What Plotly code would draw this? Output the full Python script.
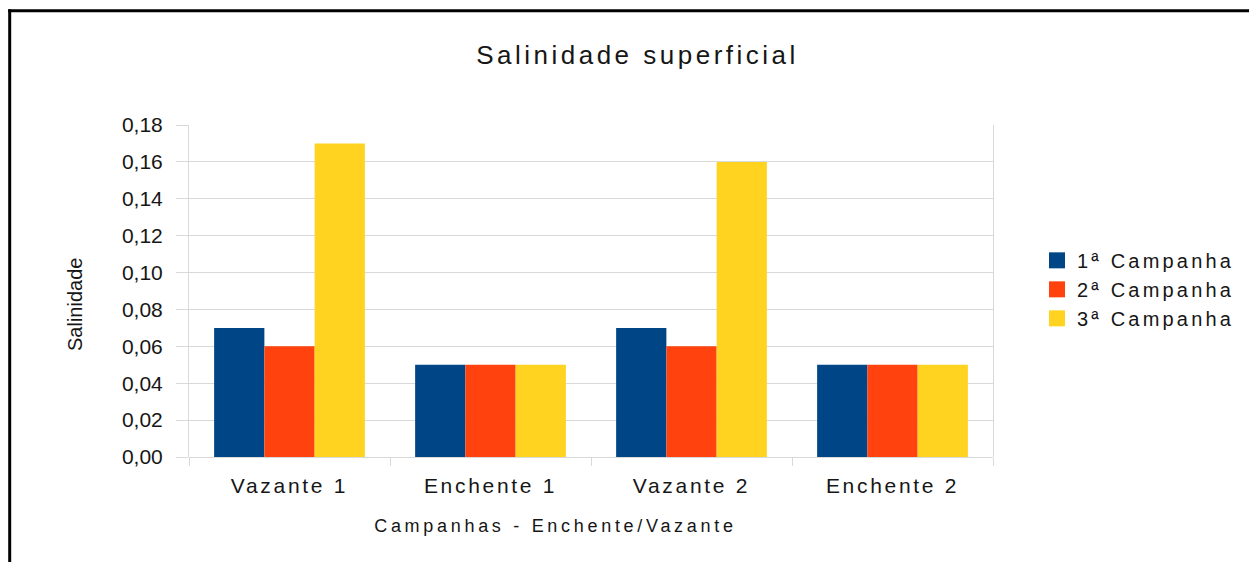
import plotly.graph_objects as go

categories = ["Vazante 1", "Enchente 1", "Vazante 2", "Enchente 2"]
series_names = ["1ª Campanha", "2ª Campanha", "3ª Campanha"]
campanha1 = [0.07, 0.05, 0.07, 0.05]
campanha2 = [0.06, 0.05, 0.06, 0.05]
campanha3 = [0.17, 0.05, 0.16, 0.05]
colors = ["#004586", "#ff420e", "#ffd320"]
y_ticks = [0, 0.02, 0.04, 0.06, 0.08, 0.10, 0.12, 0.14, 0.16, 0.18]
x_title = "Campanhas - Enchente/Vazante"
y_title = "Salinidade"
chart_title = "Salinidade superficial"

FONT = "Liberation Sans, Arial, sans-serif"
TXT = "#161616"
GRID = "#d9d9d9"

# plot area in pixels (for converting decoration positions)
L, R, T, B = 189, 993, 125, 457
PW, PH = R - L, B - T

def px_x(p):
    return (p - L) / PW

def px_y(p):
    return (B - p) / PH

fig = go.Figure()
for i, (name, vals, col) in enumerate(zip(series_names, [campanha1, campanha2, campanha3], colors)):
    fig.add_trace(go.Bar(x=categories, y=vals, name=name, showlegend=False,
                         marker=dict(color=col, line=dict(width=0))))
    # legend proxy with a larger square symbol
    fig.add_trace(go.Scatter(x=[None], y=[None], name=name, mode="markers",
                             legendgroup=f"g{i}",
                             marker=dict(symbol="square", size=16, color=col)))

# overlay axis for category-boundary tick marks
fig.add_trace(go.Scatter(x=[-0.5, 3.5], y=[0, 0], xaxis="x2", mode="lines",
                         line=dict(width=0), showlegend=False, hoverinfo="skip"))

fig.update_layout(
    width=1249, height=562,
    paper_bgcolor="white", plot_bgcolor="white",
    separators=",.",
    barmode="group", bargap=0.25, bargroupgap=0,
    margin=dict(l=L, r=1249 - R, t=T, b=562 - B),
    font=dict(family=FONT, color=TXT),
    title=dict(text=chart_title, x=637.5 / 1249, xanchor="center",
               y=1 - 55 / 562, yanchor="middle",
               font=dict(size=26, family=FONT, color=TXT)),
    xaxis=dict(type="category", showgrid=False, showline=False, ticks="",
               ticklabelstandoff=14,
               tickfont=dict(size=21, family=FONT, color=TXT)),
    xaxis2=dict(overlaying="x", range=[-0.5, 3.5], tickvals=[-0.5, 0.5, 1.5, 2.5, 3.5],
                showticklabels=False, showgrid=False, showline=False,
                ticks="outside", ticklen=8, tickcolor=GRID, zeroline=False, side="bottom",
                anchor="y"),
    yaxis=dict(range=[0, 0.18], tickvals=y_ticks, tickformat=".2f",
               showgrid=True, gridcolor=GRID, gridwidth=1,
               zeroline=True, zerolinecolor=GRID, zerolinewidth=1,
               showline=True, mirror=True, linecolor=GRID, linewidth=1,
               ticks="outside", ticklen=12, tickcolor=GRID,
               ticklabelstandoff=9,
               tickfont=dict(size=21, family=FONT, color=TXT)),
    legend=dict(x=px_x(1037), y=0.505, xanchor="left", yanchor="middle",
                font=dict(size=20, family=FONT, color=TXT),
                itemsizing="trace", itemwidth=30,
                traceorder="grouped", tracegroupgap=0),
    annotations=[
        dict(text=y_title, textangle=-90, xref="paper", yref="paper",
             x=px_x(75), y=px_y(305), xanchor="center", yanchor="middle",
             showarrow=False, font=dict(size=20, family=FONT, color=TXT)),
        dict(text=x_title, xref="paper", yref="paper",
             x=px_x(555.5), y=px_y(526), xanchor="center", yanchor="middle",
             showarrow=False, font=dict(size=18, family=FONT, color=TXT)),
    ],
    shapes=[
        dict(type="line", xref="paper", yref="paper", x0=px_x(9.7), x1=px_x(9.7),
             y0=px_y(9.3), y1=px_y(600), line=dict(color="black", width=3)),
        dict(type="line", xref="paper", yref="paper", x0=px_x(8.2), x1=px_x(1300),
             y0=px_y(10.7), y1=px_y(10.7), line=dict(color="black", width=3)),
    ],
)

post = """
document.body.style.margin='0';
function sp(sel, v){document.querySelectorAll(sel).forEach(function(t){t.style.letterSpacing=v;});}
sp('.xtick text','2.7px');
sp('.legendtext','3.2px');
sp('.gtitle','3.5px');
document.querySelectorAll('.annotation-text').forEach(function(t){
  if (t.textContent.indexOf('Campanhas') === 0) { t.style.letterSpacing='3.7px'; }
});
document.querySelectorAll('.legend .scrollbox').forEach(function(e){e.removeAttribute('clip-path');});
document.querySelectorAll('.legend').forEach(function(e){e.removeAttribute('clip-path');});
"""
fig.write_html("out.html", post_script=post, config={"displayModeBar": False})
